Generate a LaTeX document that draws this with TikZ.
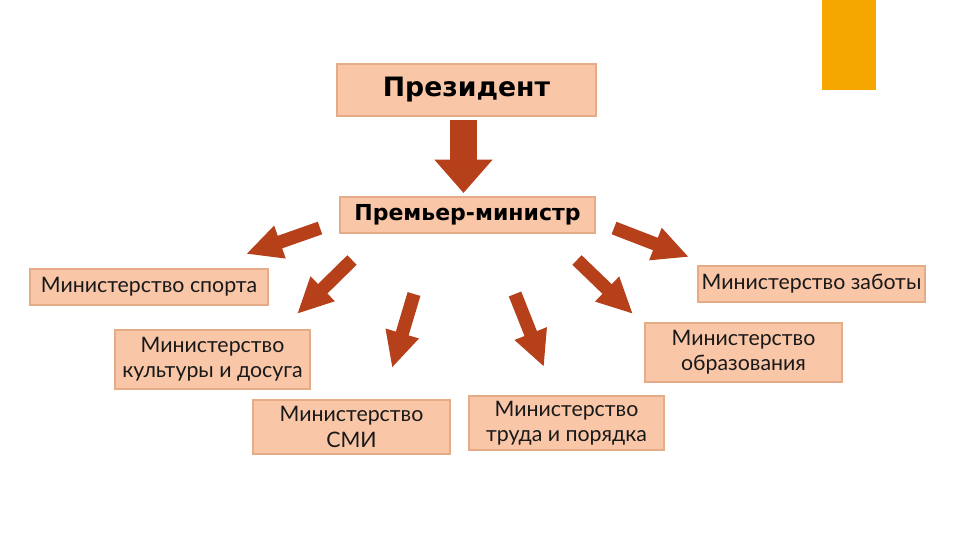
\documentclass[tikz,border=0pt]{standalone}
\usepackage{fontspec}
\setmainfont{Lato}
\newfontfamily\boldfam{DejaVu Sans}
\usetikzlibrary{arrows.meta}
\definecolor{boxfill}{HTML}{F9C6A7}
\definecolor{boxline}{HTML}{E6AC88}
\definecolor{arrowc}{HTML}{B5401A}
\definecolor{orangebar}{HTML}{F5A700}
\tikzset{
  minbox/.style={draw=boxline, fill=boxfill, line width=0.8pt, inner sep=0pt, align=center, text=black!90, font=\fontsize{16}{19}\selectfont},
  topbox/.style={draw=boxline, fill=boxfill, line width=0.8pt, inner sep=0pt, align=center, text=black, font=\boldfam\bfseries},
  blockarrow/.style={draw=arrowc, line width=10pt, -{Triangle[width=24pt,length=27pt]}},
  bigarrow/.style={draw=arrowc, line width=20pt, -{Triangle[width=42pt,length=25pt]}}
}
\begin{document}
\begin{tikzpicture}[x=0.75pt,y=-0.75pt]
\useasboundingbox (0,0) rectangle (960,540);
\fill[white] (0,0) rectangle (960,540);
\fill[orangebar] (822,0) rectangle (876,90);

\node[topbox, minimum width=259*0.75pt, minimum height=52*0.75pt, font=\boldfam\bfseries\fontsize{20}{22}\selectfont] (pres) at (466.5,90) {Президент};
\node[topbox, minimum width=255*0.75pt, minimum height=36*0.75pt, font=\boldfam\bfseries\fontsize{16.5}{18}\selectfont] (pm) at (467.5,215) {Премьер-министр};

\node[minbox, minimum width=238*0.75pt, minimum height=36*0.75pt] (sport) at (149,287) {Министерство спорта};
\node[minbox, minimum width=227*0.75pt, minimum height=36*0.75pt] (care) at (811.5,284) {Министерство заботы};
\node[minbox, minimum width=195*0.75pt, minimum height=59*0.75pt] (cult) at (212.5,359.5) {Министерство\\культуры и досуга};
\node[minbox, minimum width=197*0.75pt, minimum height=59*0.75pt] (edu) at (743.5,352.5) {Министерство\\образования};
\node[minbox, minimum width=197*0.75pt, minimum height=54*0.75pt] (media) at (351.5,427) {Министерство\\СМИ};
\node[minbox, minimum width=195*0.75pt, minimum height=54*0.75pt] (labor) at (566.5,423) {Министерство\\труда и порядка};

\coordinate (b0) at (463.5,120);
\coordinate (b1) at (463.5,193);
\draw[bigarrow] (b0) -- (b1);

\coordinate (a1s) at (320,228);
\coordinate (a1e) at (246,254);
\coordinate (a2s) at (352,260);
\coordinate (a2e) at (297,314);
\coordinate (a3s) at (414,294);
\coordinate (a3e) at (392,368);
\coordinate (a4s) at (515,294);
\coordinate (a4e) at (544,367);
\coordinate (a5s) at (577,260);
\coordinate (a5e) at (633,314);
\coordinate (a6s) at (614,228);
\coordinate (a6e) at (689,257);
\foreach \i in {1,...,6}{\draw[blockarrow] (a\i s) -- (a\i e);}
\end{tikzpicture}
\end{document}
